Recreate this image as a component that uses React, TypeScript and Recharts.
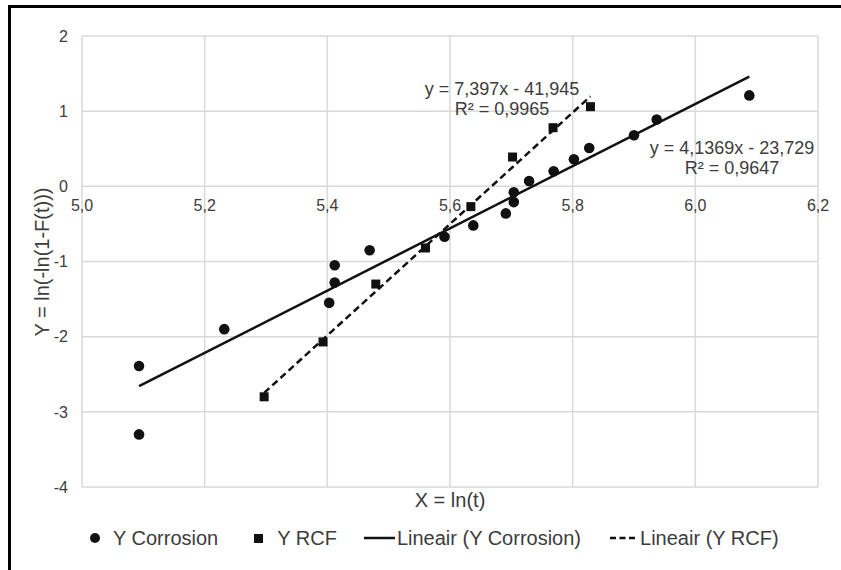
import { ScatterChart, Scatter, XAxis, YAxis, CartesianGrid, ReferenceDot } from "recharts";

// values
const corrosionX = [5.093, 5.093, 5.232, 5.403, 5.412, 5.412, 5.469, 5.591, 5.638, 5.691, 5.704, 5.704, 5.729, 5.769, 5.802, 5.827, 5.9, 5.937, 6.088];
const corrosionY = [-2.39, -3.3, -1.9, -1.55, -1.28, -1.05, -0.85, -0.67, -0.52, -0.36, -0.21, -0.08, 0.07, 0.2, 0.36, 0.51, 0.68, 0.89, 1.21];
const rcfX = [5.297, 5.393, 5.479, 5.56, 5.634, 5.702, 5.768, 5.829];
const rcfY = [-2.8, -2.07, -1.3, -0.82, -0.27, 0.39, 0.78, 1.06];
const xTicks = [5.0, 5.2, 5.4, 5.6, 5.8, 6.0, 6.2];
const yTicks = [-4, -3, -2, -1, 0, 1, 2];

const corrosion = corrosionX.map((x, i) => ({ x, y: corrosionY[i] }));
const rcf = rcfX.map((x, i) => ({ x, y: rcfY[i] }));

const FONT = '"Liberation Sans", Arial, sans-serif';
const TEXT = "#3c3c3c";
const MARK = "#111111";

const Dot = (p: any) => <circle cx={p.cx} cy={p.cy} r={5.3} fill={MARK} />;
const Square = (p: any) => <rect x={p.cx - 4.5} y={p.cy - 4.5} width={9} height={9} fill={MARK} />;
const NoDot = () => <g />;

const XTickLabel = ({ viewBox, value }: any) => (
  <text
    x={viewBox.x + viewBox.width / 2}
    y={viewBox.y + 19}
    textAnchor="middle"
    dominantBaseline="central"
    fill={TEXT}
    fontSize={16}
  >
    {value}
  </text>
);

const fmt = (v: number) => v.toFixed(1).replace(".", ",");

export default function App() {
  return (
    <div
      style={{
        position: "absolute",
        left: 0,
        top: 0,
        width: 841,
        height: 570,
        background: "#fff",
        fontFamily: FONT,
        color: TEXT,
        overflow: "hidden",
      }}
    >
      <ScatterChart width={841} height={570} margin={{ top: 36, right: 23, bottom: 83, left: 42 }}>
        <CartesianGrid stroke="#d9d9d9" strokeWidth={1.5} />
        <XAxis type="number" dataKey="x" domain={[5, 6.2]} ticks={xTicks} hide />
        <YAxis
          type="number"
          dataKey="y"
          domain={[-4, 2]}
          ticks={yTicks}
          width={40}
          axisLine={false}
          tickLine={false}
          tickSize={0}
          tickMargin={14}
          tick={{ fill: TEXT, fontSize: 16 }}
        />
        {xTicks.map((t) => (
          <ReferenceDot key={t} x={t} y={0} r={0} ifOverflow="visible" label={<XTickLabel value={fmt(t)} />} />
        ))}
        <Scatter data={corrosion} shape={Dot} isAnimationActive={false} />
        <Scatter data={rcf} shape={Square} isAnimationActive={false} />
        <Scatter
          data={corrosion}
          shape={NoDot}
          line={{ stroke: MARK, strokeWidth: 2.5 }}
          lineType="fitting"
          isAnimationActive={false}
        />
        <Scatter
          data={rcf}
          shape={NoDot}
          line={{ stroke: MARK, strokeWidth: 2.5, strokeDasharray: "7 4" }}
          lineType="fitting"
          isAnimationActive={false}
        />
      </ScatterChart>

      {/* trendline labels */}
      <div style={{ position: "absolute", left: 352, top: 80, width: 300, textAlign: "center", fontSize: 18, lineHeight: "19.5px" }}>
        y = 7,397x - 41,945
        <br />
        R² = 0,9965
      </div>
      <div style={{ position: "absolute", left: 582, top: 138, width: 300, textAlign: "center", fontSize: 18, lineHeight: "20px" }}>
        y = 4,1369x - 23,729
        <br />
        R² = 0,9647
      </div>

      {/* axis titles */}
      <div
        style={{
          position: "absolute",
          left: 42,
          top: 262,
          transform: "translate(-50%, -50%) rotate(-90deg)",
          whiteSpace: "nowrap",
          fontSize: 20,
        }}
      >
        Y = ln(-ln(1-F(t)))
      </div>
      <div style={{ position: "absolute", left: 450, top: 500, transform: "translate(-50%, -50%)", whiteSpace: "nowrap", fontSize: 20 }}>
        X = ln(t)
      </div>

      {/* legend */}
      <div style={{ position: "absolute", left: 0, top: 526, height: 24, display: "flex", alignItems: "center", fontSize: 20, whiteSpace: "nowrap" }}>
        <svg width={10} height={10} style={{ marginLeft: 90 }}>
          <circle cx={5} cy={5} r={5} fill={MARK} />
        </svg>
        <span style={{ marginLeft: 13 }}>Y Corrosion</span>
        <svg width={9} height={9} style={{ marginLeft: 36 }}>
          <rect width={9} height={9} fill={MARK} />
        </svg>
        <span style={{ marginLeft: 14 }}>Y RCF</span>
        <svg width={31} height={4} style={{ marginLeft: 27 }}>
          <line x1={0} y1={2} x2={31} y2={2} stroke={MARK} strokeWidth={2.5} />
        </svg>
        <span style={{ marginLeft: 2 }}>Lineair (Y Corrosion)</span>
        <svg width={28} height={4} style={{ marginLeft: 29 }}>
          <line x1={0} y1={2} x2={28} y2={2} stroke={MARK} strokeWidth={2.5} strokeDasharray="6 3.5" />
        </svg>
        <span style={{ marginLeft: 2 }}>Lineair (Y RCF)</span>
      </div>

      {/* partial frame */}
      <div style={{ position: "absolute", left: 8, top: 5, width: 3, height: 565, background: "#000" }} />
      <div style={{ position: "absolute", left: 8, top: 5, width: 833, height: 3, background: "#000" }} />
    </div>
  );
}
